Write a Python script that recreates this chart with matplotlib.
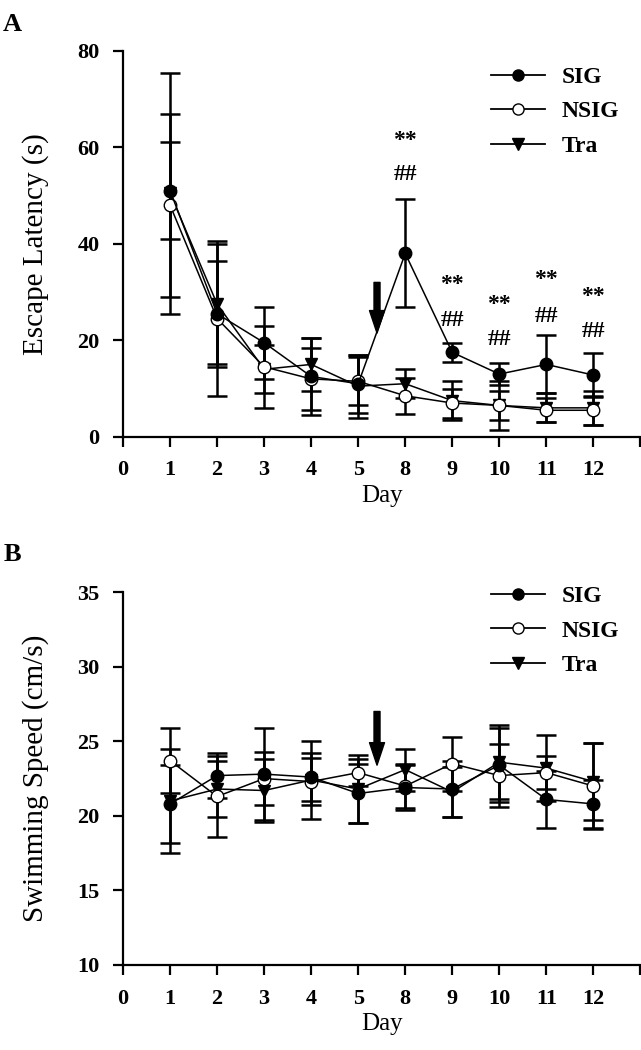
import matplotlib
matplotlib.use('Agg')
import matplotlib.pyplot as plt
from matplotlib.lines import Line2D

plt.rcParams['font.family'] = 'Liberation Serif'

days = ['0', '1', '2', '3', '4', '5', '8', '9', '10', '11', '12']
x = list(range(1, 11))

# panel A: escape latency (s)
sig_lat = [51, 25.5, 19.5, 12.5, 11, 38, 17.5, 13, 15, 12.8]
sig_lat_err = [10, 11, 7.5, 8, 6, 11.2, 2, 2.2, 6, 4.5]
nsig_lat = [48, 24.5, 14.5, 12, 11.5, 8.5, 7, 6.5, 5.5, 5.5]
nsig_lat_err = [19, 16, 8.5, 6.5, 5, 3.7, 3, 3, 2.5, 3]
tra_lat = [50.5, 27.5, 14, 15, 10.5, 11, 7.5, 6.5, 6, 6]
tra_lat_err = [25, 12.5, 5, 5.5, 6.5, 3, 4, 5, 3, 3.5]

# panel B: swimming speed (cm/s)
sig_spd = [20.8, 22.7, 22.8, 22.6, 21.5, 21.9, 21.8, 23.4, 21.1, 20.8]
sig_spd_err = [2.6, 1.5, 3.1, 1.6, 2.0, 1.5, 1.9, 2.5, 1.9, 1.6]
nsig_spd = [23.7, 21.3, 22.5, 22.3, 22.9, 22.0, 23.5, 22.7, 22.9, 22.0]
nsig_spd_err = [2.2, 2.7, 1.8, 1.6, 0.9, 1.5, 1.8, 2.1, 1.1, 2.9]
tra_spd = [21.0, 21.8, 21.7, 22.4, 21.8, 23.1, 21.6, 23.6, 23.2, 22.3]
tra_spd_err = [3.5, 1.9, 2.1, 2.6, 2.3, 1.4, 1.7, 2.5, 2.2, 2.6]

stars_x = [6, 7, 8, 9, 10]
stars_y = [61.5, 31.5, 27.4, 32.7, 29]
hash_y = [54.3, 24.2, 20.1, 24.9, 21.8]

fig = plt.figure(figsize=(6.41, 10.5), dpi=100)
axA = fig.add_axes([0.192, 0.584, 0.807, 0.3676])
axB = fig.add_axes([0.192, 0.081, 0.807, 0.355])


def draw(ax, s, se, n, ne, t, te, leg_anchor):
    kw = dict(color='black', lw=1.1, elinewidth=1.8, capsize=7, capthick=1.8, ms=9)
    ax.errorbar(x, t, yerr=te, fmt='-v', mfc='black', mec='black', **kw)
    ax.errorbar(x, n, yerr=ne, fmt='-o', mfc='white', mec='black', **kw)
    ax.errorbar(x, s, yerr=se, fmt='-o', mfc='black', mec='black', **kw)
    ax.set_xlim(0, 11)
    ax.set_xticks(range(0, 12))
    ax.set_xticklabels(days + [''])
    for side in ['top', 'right']:
        ax.spines[side].set_visible(False)
    for side in ['left', 'bottom']:
        ax.spines[side].set_linewidth(1.6)
    ax.tick_params(direction='out', length=7, width=1.6, labelsize=16, pad=10)
    for lab in ax.get_xticklabels() + ax.get_yticklabels():
        lab.set_fontweight('bold')
    ax.set_xlabel('Day', fontsize=18, labelpad=3)
    handles = [
        Line2D([], [], color='black', lw=1.3, marker='o', ms=8, mfc='black', mec='black'),
        Line2D([], [], color='black', lw=1.3, marker='o', ms=8, mfc='white', mec='black'),
        Line2D([], [], color='black', lw=1.3, marker='v', ms=8, mfc='black', mec='black'),
    ]
    ax.legend(handles, ['SIG', 'NSIG', 'Tra'], loc='upper right', bbox_to_anchor=leg_anchor,
              frameon=False, prop={'weight': 'bold', 'size': 17}, handlelength=2.3,
              labelspacing=0.55, handletextpad=0.7)


draw(axA, sig_lat, sig_lat_err, nsig_lat, nsig_lat_err, tra_lat, tra_lat_err, (1.0, 1.015))
axA.set_ylim(0, 80)
axA.set_yticks([0, 20, 40, 60, 80])
axA.set_ylabel('Escape Latency (s)', fontsize=21, labelpad=20)
for xi, sy, hy in zip(stars_x, stars_y, hash_y):
    axA.text(xi, sy, '**', ha='center', va='center', fontsize=17, fontweight='bold')
    axA.text(xi, hy, '##', ha='center', va='center', fontsize=17, fontweight='bold')

arrow = dict(arrowstyle='simple,head_length=1.35,head_width=0.9,tail_width=0.36',
             color='black', mutation_scale=12, shrinkA=0, shrinkB=0)
axA.annotate('', xy=(5.4, 21.5), xytext=(5.4, 32), arrowprops=arrow)

draw(axB, sig_spd, sig_spd_err, nsig_spd, nsig_spd_err, tra_spd, tra_spd_err, (1.0, 1.075))
axB.set_ylim(10, 35)
axB.set_yticks([10, 15, 20, 25, 30, 35])
axB.set_ylabel('Swimming Speed (cm/s)', fontsize=21, labelpad=20)
axB.annotate('', xy=(5.4, 23.4), xytext=(5.4, 27), arrowprops=arrow)

fig.text(0.005, 0.988, 'A', fontsize=19, fontweight='bold', va='top')
fig.text(0.005, 0.483, 'B', fontsize=19, fontweight='bold', va='top')

fig.savefig('out.png', dpi=100)
